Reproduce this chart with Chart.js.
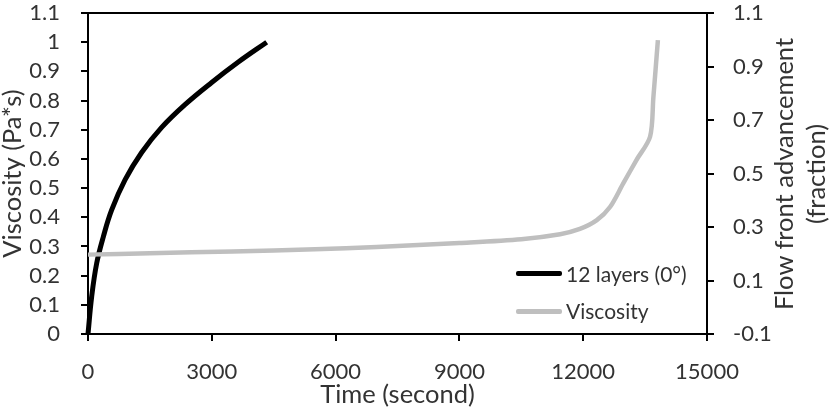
<!DOCTYPE html>
<html>
<head>
<meta charset="utf-8">
<script src="https://cdn.jsdelivr.net/npm/chart.js@4"></script>
<style>
  html, body { margin: 0; padding: 0; background: #fff; }
  #wrap { position: relative; width: 829px; height: 416px; font-family: Lato, sans-serif; color: #333; }
  .legend-line { position: absolute; height: 5px; width: 46px; border-radius: 2px; }
  .legend-text { position: absolute; font-size: 21px; line-height: 22px; }
  #rightTitle {
    position: absolute; left: 649px; top: 142px; width: 300px; height: 64px;
    font-size: 25.5px; line-height: 32px; text-align: center;
    transform: rotate(-90deg); transform-origin: 50% 50%;
  }
</style>
</head>
<body>
<div id="wrap">
  <canvas id="chart"></canvas>
  <div class="legend-line" style="left:516px;top:271px;background:#000;"></div>
  <div class="legend-text" style="left:566px;top:263px;">12 layers (0°)</div>
  <div class="legend-line" style="left:516px;top:309px;background:#bfbfbf;"></div>
  <div class="legend-text" style="left:566px;top:300px;">Viscosity</div>
  <div id="rightTitle">Flow front advancement<br>(fraction)</div>
</div>
<script>
// Data
const flowTime = [0, 89, 210, 371, 574, 897, 1300, 1785, 2350, 2997, 3643, 4330];
const flowFront = [0, 0.128, 0.242, 0.333, 0.425, 0.528, 0.622, 0.708, 0.786, 0.862, 0.932, 1.0];

const viscTime = [0, 1500, 3500, 5500, 7000, 9000, 10500, 11440, 11920, 12330, 12650, 12970, 13290, 13620, 13700, 13810];
const viscosity = [0.272, 0.277, 0.283, 0.29, 0.298, 0.312, 0.325, 0.342, 0.36, 0.39, 0.435, 0.516, 0.596, 0.676, 0.81, 1.007];

const xTicks = [0, 3000, 6000, 9000, 12000, 15000];
const leftTicks = [0, 0.1, 0.2, 0.3, 0.4, 0.5, 0.6, 0.7, 0.8, 0.9, 1, 1.1];
const rightTicks = [-0.1, 0.1, 0.3, 0.5, 0.7, 0.9, 1.1];

const toPoints = (xs, ys) => xs.map((x, i) => ({ x: x, y: ys[i] }));

const tickFont = { family: "Lato", size: 22 };
const titleFont = { family: "Lato", size: 25.5, lineHeight: 1.0 };
const axisGrid = { drawOnChartArea: false, tickLength: 7, tickColor: "#000", lineWidth: 2 };
const axisBorder = { color: "#000", width: 2 };

// vertical axes: fixed width, no extra label padding at top/bottom
const fixVertical = (w) => (s) => {
  s.width = w;
  s.paddingTop = 0;
  s.paddingBottom = 0;
};

// top edge of the plot box
const frame = {
  id: "frame",
  afterDraw(chart) {
    const { ctx, chartArea } = chart;
    ctx.save();
    ctx.strokeStyle = "#000";
    ctx.lineWidth = 2;
    ctx.beginPath();
    ctx.moveTo(chartArea.left - 1, chartArea.top);
    ctx.lineTo(chartArea.right + 1, chartArea.top);
    ctx.stroke();
    ctx.restore();
  }
};

new Chart(document.getElementById("chart"), {
  type: "line",
  data: {
    datasets: [
      {
        label: "Viscosity",
        data: toPoints(viscTime, viscosity),
        borderColor: "#bfbfbf",
        borderWidth: 4.5,
        pointRadius: 0,
        tension: 0.3,
        yAxisID: "y",
        clip: 6
      },
      {
        label: "12 layers (0°)",
        data: toPoints(flowTime, flowFront),
        borderColor: "#000",
        borderWidth: 5,
        pointRadius: 0,
        tension: 0.4,
        yAxisID: "y",
        clip: 6
      }
    ]
  },
  options: {
    responsive: true,
    maintainAspectRatio: false,
    animation: false,
    layout: { padding: { top: 13, left: 0, right: 0, bottom: 0 } },
    plugins: { legend: { display: false }, tooltip: { enabled: false } },
    scales: {
      x: {
        type: "linear",
        min: 0,
        max: 15000,
        afterBuildTicks: (s) => { s.ticks = xTicks.map((v) => ({ value: v })); },
        afterFit: (s) => { s.height = 82; },
        grid: axisGrid,
        border: axisBorder,
        ticks: { font: tickFont, color: "#333", padding: 18, maxRotation: 0, autoSkip: false, callback: (v) => String(v) },
        title: { display: true, text: "Time (second)", font: { family: "Lato", size: 25.5, lineHeight: 1.2 }, color: "#333", padding: { top: 0, bottom: 6 } }
      },
      y: {
        position: "left",
        min: 0,
        max: 1.1,
        afterBuildTicks: (s) => { s.ticks = leftTicks.map((v) => ({ value: v })); },
        afterFit: fixVertical(88),
        grid: axisGrid,
        border: axisBorder,
        ticks: { font: tickFont, color: "#333", padding: 21, autoSkip: false, callback: (v) => String(v) },
        title: { display: true, text: "Viscosity (Pa*s)", font: titleFont, color: "#333", padding: { top: 0, bottom: 0 } }
      },
      y1: {
        position: "right",
        min: -0.1,
        max: 1.1,
        afterBuildTicks: (s) => { s.ticks = rightTicks.map((v) => ({ value: v })); },
        afterFit: fixVertical(122),
        grid: axisGrid,
        border: axisBorder,
        ticks: { font: tickFont, color: "#333", padding: 19, autoSkip: false, callback: (v) => String(v) }
      }
    }
  },
  plugins: [frame]
});
</script>
</body>
</html>
